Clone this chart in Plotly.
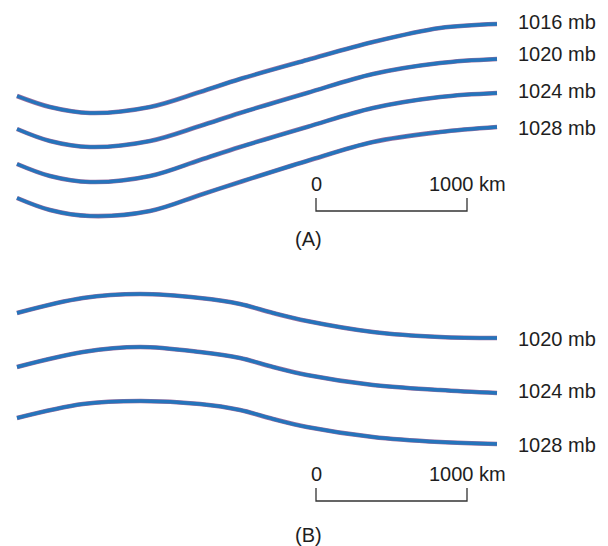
import plotly.graph_objects as go

# ---- Panel (A): isobars, sampled along their length (x, y in page pixels) ----
a_labels = ["1016 mb", "1020 mb", "1024 mb", "1028 mb"]
a_x = [17, 50, 90, 150, 200, 240, 307, 373, 440, 497]
a_1016 = [96, 107, 113, 107, 92, 79, 60, 42, 28, 24]
a_1020 = [129, 141, 147, 141, 126, 113, 93, 74, 63, 59]
a_1024 = [164, 176, 182, 176, 160, 147, 127, 108, 97, 93]
a_1028 = [198, 210, 216, 211, 195, 182, 161, 142, 132, 127]
a_label_y = [22, 54, 91, 128]

# ---- Panel (B) ----
b_labels = ["1020 mb", "1024 mb", "1028 mb"]
b_x = [17, 83, 140, 200, 240, 273, 307, 373, 440, 497]
b_1020 = [313, 298, 294, 298, 304, 313, 321, 332, 337, 338]
b_1024 = [367, 352, 347, 352, 358, 367, 375, 385, 390, 393]
b_1028 = [418, 404, 401, 404, 410, 419, 427, 437, 442, 444]
b_label_y = [339, 391, 445]

# ---- Scale bars ----
scale_labels = ["0", "1000 km"]
scale_x = [316, 467]
scale_a_y = [198, 211]
scale_b_y = [488, 501]
panel_tags = ["(A)", "(B)"]
panel_tag_y = [239, 535]

LINE_BLUE = "#2574bb"
LINE_EDGE = "#9a6f9e"
TEXT = "#1e1e1e"
FONT = "Liberation Sans, Arial, sans-serif"

# the page body has an 8px margin; map data (page pixels) onto the plot accordingly
OFF = 8
W, H = 608, 546

fig = go.Figure()

def isobar(xs, ys):
    fig.add_trace(go.Scatter(x=xs, y=ys, mode="lines",
                             line=dict(color=LINE_EDGE, width=4.6, shape="spline", smoothing=1.0),
                             hoverinfo="skip", showlegend=False))
    fig.add_trace(go.Scatter(x=xs, y=ys, mode="lines",
                             line=dict(color=LINE_BLUE, width=3.4, shape="spline", smoothing=1.0),
                             hoverinfo="skip", showlegend=False))

for ys in [a_1016, a_1020, a_1024, a_1028]:
    isobar(a_x, ys)
for ys in [b_1020, b_1024, b_1028]:
    isobar(b_x, ys)

annotations = []
for lab, y in zip(a_labels, a_label_y):
    annotations.append(dict(x=516, y=y, text=lab, xanchor="left", yanchor="middle"))
for lab, y in zip(b_labels, b_label_y):
    annotations.append(dict(x=516, y=y, text=lab, xanchor="left", yanchor="middle"))

for sy in [scale_a_y, scale_b_y]:
    x0, x1 = scale_x
    fig.add_trace(go.Scatter(x=[x0, x0, x1, x1], y=[sy[0], sy[1], sy[1], sy[0]],
                             mode="lines", line=dict(color="#333333", width=1.3),
                             hoverinfo="skip", showlegend=False))
    annotations.append(dict(x=x0, y=sy[0] - 14, text=scale_labels[0], xanchor="center", yanchor="middle"))
    annotations.append(dict(x=x1 - 40, y=sy[0] - 14, text=scale_labels[1], xanchor="left", yanchor="middle"))

for tag, y in zip(panel_tags, panel_tag_y):
    annotations.append(dict(x=308, y=y, text=tag, xanchor="center", yanchor="middle"))

for a in annotations:
    a.update(xref="x", yref="y", showarrow=False, font=dict(family=FONT, size=20, color=TEXT))

fig.update_layout(
    width=W - OFF, height=H - OFF,
    margin=dict(l=0, r=0, t=0, b=0),
    paper_bgcolor="white", plot_bgcolor="white",
    xaxis=dict(range=[OFF, W], visible=False, fixedrange=True),
    yaxis=dict(range=[H, OFF], visible=False, fixedrange=True),
    annotations=annotations,
    showlegend=False,
)

fig.write_html("out.html")
